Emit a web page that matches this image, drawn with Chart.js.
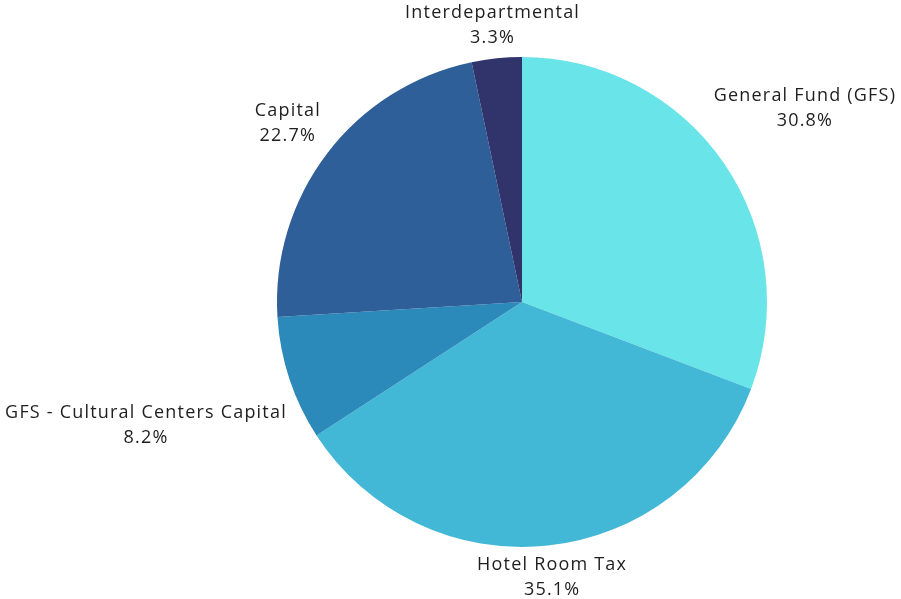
<!DOCTYPE html>
<html lang="en">
<head>
    <meta charset="UTF-8">
    <title>Sources of Funds</title>
    <script src="https://cdn.jsdelivr.net/npm/chart.js"></script>
    <style>
        html, body { margin: 0; padding: 0; background: #ffffff; }
        #wrap { width: 901px; height: 599px; }
    </style>
</head>
<body>

<div id="wrap"><canvas id="pieChart"></canvas></div>

<script>
    // data
    const categories = ['General Fund (GFS)', 'Hotel Room Tax', 'GFS - Cultural Centers Capital', 'Capital', 'Interdepartmental'];
    const shares = [30.8, 35.1, 8.2, 22.7, 3.3];
    const sliceColors = ['#69e4e8', '#43b7d6', '#2b8aba', '#2e5f99', '#31336b'];

    // small nudges for the outside labels, in px
    const labelNudge = [[-2, -35], [-5, -3], [0, 36], [-5, -9], [6, 2]];

    const FONT = '18px "Open Sans", sans-serif';

    const outsideLabels = {
        id: 'outsideLabels',
        afterDatasetsDraw(chart) {
            const ctx = chart.ctx;
            const meta = chart.getDatasetMeta(0);
            ctx.save();
            ctx.font = FONT;
            ctx.letterSpacing = '1.2px';
            ctx.fillStyle = '#1e1e1e';
            ctx.textAlign = 'center';
            ctx.textBaseline = 'middle';
            const lineH = 25;
            meta.data.forEach((arc, i) => {
                const p = arc.getProps(['x', 'y', 'startAngle', 'endAngle', 'outerRadius'], true);
                const mid = (p.startAngle + p.endAngle) / 2;
                const r = p.outerRadius + 10;
                const ax = p.x + Math.cos(mid) * r;
                const ay = p.y + Math.sin(mid) * r;
                const lines = [categories[i], shares[i].toFixed(1) + '%'];
                const w = Math.max(...lines.map(t => ctx.measureText(t).width));
                const h = lineH * 2;
                const cx = ax + Math.cos(mid) * w / 2 + labelNudge[i][0];
                const cy = ay + Math.sin(mid) * h / 2 + labelNudge[i][1];
                ctx.fillText(lines[0], cx, cy - lineH / 2);
                ctx.fillText(lines[1], cx, cy + lineH / 2);
            });
            ctx.restore();
        }
    };

    const ctx = document.getElementById('pieChart').getContext('2d');
    new Chart(ctx, {
        type: 'pie',
        data: {
            labels: categories,
            datasets: [{
                data: shares,
                backgroundColor: sliceColors,
                borderWidth: 0
            }]
        },
        options: {
            responsive: true,
            maintainAspectRatio: false,
            animation: false,
            layout: { padding: { left: 277, right: 134, top: 57, bottom: 52 } },
            plugins: {
                legend: { display: false },
                tooltip: { enabled: false }
            }
        },
        plugins: [outsideLabels]
    });
</script>

</body>
</html>
